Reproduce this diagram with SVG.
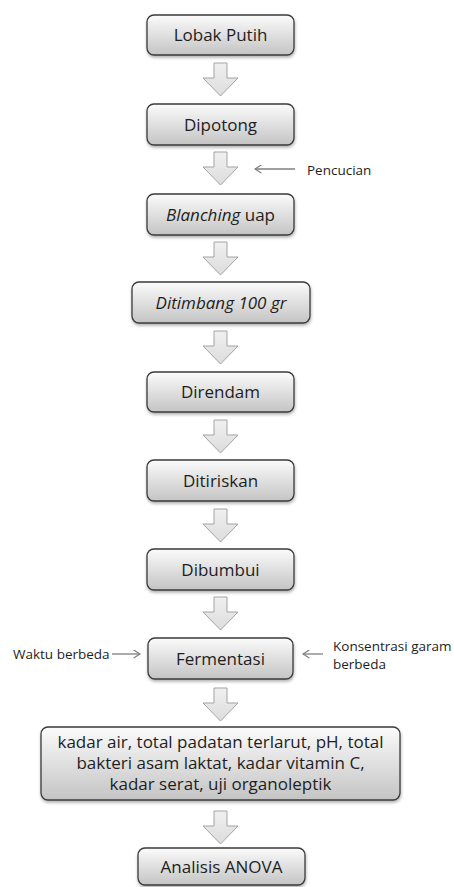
<svg xmlns="http://www.w3.org/2000/svg" width="454" height="887" viewBox="0 0 454 887">
<defs>
<linearGradient id="boxg" x1="0" y1="0" x2="0" y2="1">
<stop offset="0" stop-color="#fbfbfb"/>
<stop offset="1" stop-color="#c4c4c4"/>
</linearGradient>
<linearGradient id="arrg" x1="0" y1="0" x2="0" y2="1">
<stop offset="0" stop-color="#f0f0f0"/>
<stop offset="1" stop-color="#dcdcdc"/>
</linearGradient>
<filter id="sh" x="-10%" y="-20%" width="120%" height="150%">
<feDropShadow dx="0.5" dy="2" stdDeviation="1.5" flood-color="#000" flood-opacity="0.3"/>
</filter>
<marker id="chev" viewBox="0 0 10 10" refX="9" refY="5" markerWidth="9" markerHeight="9" orient="auto" markerUnits="userSpaceOnUse">
<path d="M2,0.5 L9,5 L2,9.5" fill="none" stroke="#7f7f7f" stroke-width="1.3"/>
</marker>
<path id="barrow" d="M-6.5,0 H6.5 V15 H17.5 L0,33 L-17.5,15 H-6.5 Z"/>
</defs>
<style>
.box{fill:url(#boxg);stroke:#3a3a3a;stroke-width:1.3;filter:url(#sh)}
.t{font-family:"Open Sans","Liberation Sans",sans-serif;font-size:17px;fill:#1e1e1e;text-anchor:middle}
.s{font-family:"Open Sans","Liberation Sans",sans-serif;font-size:13.5px;fill:#1e1e1e}
.ba{fill:url(#arrg);stroke:#a3a3a3;stroke-width:1}
.side{stroke:#7f7f7f;stroke-width:1.3;fill:none}
</style>
<rect width="454" height="887" fill="#fff"/>

<g id="connectors">
<use href="#barrow" class="ba" x="220.5" y="63"/>
<use href="#barrow" class="ba" x="220.5" y="152"/>
<use href="#barrow" class="ba" x="220.5" y="242"/>
<use href="#barrow" class="ba" x="220.5" y="331"/>
<use href="#barrow" class="ba" x="220.5" y="420"/>
<use href="#barrow" class="ba" x="220.5" y="509"/>
<use href="#barrow" class="ba" x="220.5" y="597"/>
<use href="#barrow" class="ba" x="220.5" y="688"/>
<use href="#barrow" class="ba" x="220.5" y="811"/>
<line class="side" x1="295" y1="169" x2="255" y2="169" marker-end="url(#chev)"/>
<line class="side" x1="112" y1="654" x2="140" y2="654" marker-end="url(#chev)"/>
<line class="side" x1="323" y1="654" x2="303" y2="654" marker-end="url(#chev)"/>
</g>

<g id="n1"><rect class="box" x="147" y="15" width="147" height="40" rx="7"/><text class="t" x="220.5" y="41">Lobak Putih</text></g>
<g id="n2"><rect class="box" x="147" y="104" width="147" height="41" rx="7"/><text class="t" x="220.5" y="130.5">Dipotong</text></g>
<g id="pencucian"><text class="s" x="307" y="174.5" font-size="14.5">Pencucian</text></g>
<g id="n3"><rect class="box" x="147" y="194" width="147" height="41" rx="7"/><text class="t" x="220.5" y="220.5"><tspan font-style="italic">Blanching</tspan> uap</text></g>
<g id="n4"><rect class="box" x="132" y="282" width="178" height="41" rx="7"/><text class="t" x="221" y="308.5" font-style="italic">Ditimbang 100 gr</text></g>
<g id="n5"><rect class="box" x="147" y="372" width="147" height="40" rx="7"/><text class="t" x="220.5" y="398">Direndam</text></g>
<g id="n6"><rect class="box" x="147" y="460" width="147" height="41" rx="7"/><text class="t" x="220.5" y="486.5">Ditiriskan</text></g>
<g id="n7"><rect class="box" x="147" y="549" width="147" height="41" rx="7"/><text class="t" x="220.5" y="575.5">Dibumbui</text></g>
<g id="n8"><rect class="box" x="148" y="638" width="145" height="41" rx="7"/><text class="t" x="220.5" y="664.5">Fermentasi</text></g>
<g id="waktu"><text class="s" x="13" y="658.5">Waktu berbeda</text></g>
<g id="konsentrasi"><text class="s" x="333" y="651">Konsentrasi garam</text><text class="s" x="333" y="669">berbeda</text></g>
<g id="n9"><rect class="box" x="41" y="727" width="359" height="73" rx="7"/>
<text class="t" x="220.5" y="748">kadar air, total padatan terlarut, pH, total</text>
<text class="t" x="220.5" y="769">bakteri asam laktat, kadar vitamin C,</text>
<text class="t" x="220.5" y="790">kadar serat, uji organoleptik</text></g>
<g id="n10"><rect class="box" x="138" y="848" width="167" height="37" rx="7"/><text class="t" x="221.5" y="872.5">Analisis ANOVA</text></g>
</svg>
